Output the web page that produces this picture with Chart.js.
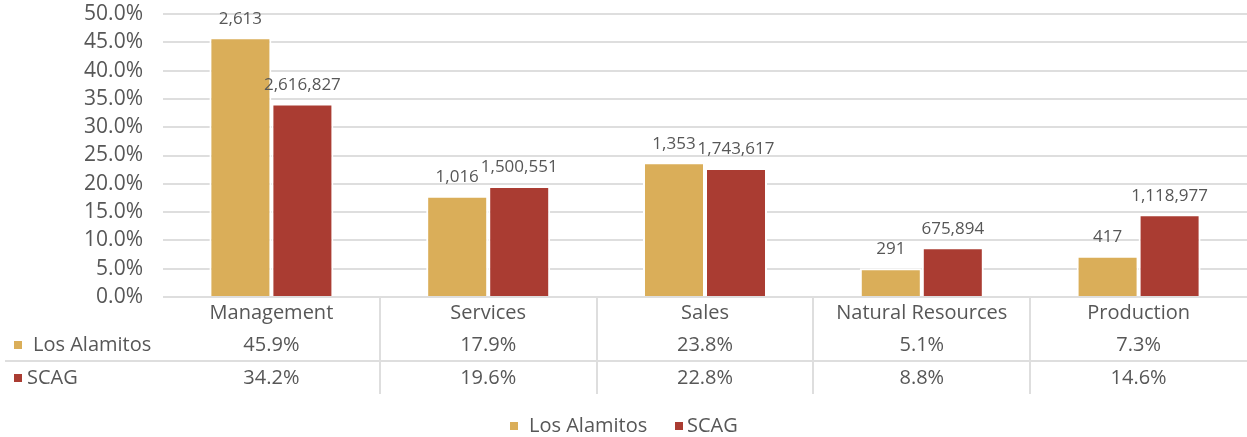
<!DOCTYPE html>
<html>
<head>
<meta charset="utf-8">
<script src="https://cdn.jsdelivr.net/npm/chart.js@4/dist/chart.umd.min.js"></script>
<style>
html,body{margin:0;padding:0;background:#fff;}
#wrap{width:1247px;height:437px;}
</style>
</head>
<body>
<div id="wrap"><canvas id="c" width="1247" height="437"></canvas></div>
<script>
const categories = ["Management", "Services", "Sales", "Natural Resources", "Production"];
const seriesNames = ["Los Alamitos", "SCAG"];
const losAlamitosPct = [45.9, 17.9, 23.8, 5.1, 7.3];
const scagPct = [34.2, 19.6, 22.8, 8.8, 14.6];
const losAlamitosCount = [2613, 1016, 1353, 291, 417];
const scagCount = [2616827, 1500551, 1743617, 675894, 1118977];
const yTicks = [0, 5, 10, 15, 20, 25, 30, 35, 40, 45, 50];

const colors = ["#DAAE59", "#AA3C32"];
const textColor = "#575757";
const gridColor = "#dedede";
const FONT = "'Open Sans', sans-serif";

const pctSeries = [losAlamitosPct, scagPct];
const countSeries = [losAlamitosCount, scagCount];

const labelPlugin = {
  id: 'barLabels',
  afterDatasetsDraw(chart) {
    const ctx = chart.ctx;
    ctx.save();
    ctx.font = "17px " + FONT;
    ctx.fillStyle = textColor;
    ctx.textAlign = 'center';
    ctx.textBaseline = 'bottom';
    chart.data.datasets.forEach((ds, di) => {
      const meta = chart.getDatasetMeta(di);
      meta.data.forEach((el, i) => {
        ctx.fillText(countSeries[di][i].toLocaleString('en-US'), el.x, el.y - 10);
      });
    });
    ctx.restore();
  }
};

const tablePlugin = {
  id: 'dataTable',
  afterDraw(chart) {
    const ctx = chart.ctx;
    const xs = chart.scales.x;
    const area = chart.chartArea;
    const n = categories.length;
    const colW = (area.right - area.left) / n;
    ctx.save();
    ctx.strokeStyle = gridColor;
    ctx.lineWidth = 2;
    ctx.beginPath();
    ctx.moveTo(5, 361); ctx.lineTo(area.right, 361);
    for (let i = 1; i < n; i++) {
      const x = Math.round(area.left + colW * i);
      ctx.moveTo(x, area.bottom); ctx.lineTo(x, 394);
    }
    ctx.stroke();
    ctx.fillStyle = textColor;
    ctx.textAlign = 'center';
    ctx.textBaseline = 'middle';
    ctx.font = "20px " + FONT;
    categories.forEach((c, i) => {
      ctx.fillText(c, xs.getPixelForValue(i), 313);
    });
    const rowY = [345, 378];
    pctSeries.forEach((arr, si) => {
      arr.forEach((v, i) => {
        ctx.fillText(v.toFixed(1) + '%', xs.getPixelForValue(i), rowY[si]);
      });
    });
    ctx.textAlign = 'left';
    ctx.fillStyle = colors[0];
    ctx.fillRect(14, rowY[0] - 4, 8, 8);
    ctx.fillStyle = colors[1];
    ctx.fillRect(14, rowY[1] - 4, 8, 8);
    ctx.fillStyle = textColor;
    ctx.fillText(seriesNames[0], 33, rowY[0]);
    ctx.fillText(seriesNames[1], 27, rowY[1]);
    const ly = 426;
    ctx.fillStyle = colors[0];
    ctx.fillRect(510, ly - 4, 8, 8);
    ctx.fillStyle = colors[1];
    ctx.fillRect(675, ly - 4, 8, 8);
    ctx.fillStyle = textColor;
    ctx.fillText(seriesNames[0], 529, ly);
    ctx.fillText(seriesNames[1], 687, ly);
    ctx.restore();
  }
};

new Chart(document.getElementById('c'), {
  type: 'bar',
  data: {
    labels: categories,
    datasets: [
      { label: seriesNames[0], data: losAlamitosPct, backgroundColor: colors[0], borderColor: '#ffffff', borderWidth: 2, categoryPercentage: 0.572, barPercentage: 1.0 },
      { label: seriesNames[1], data: scagPct, backgroundColor: colors[1], borderColor: '#ffffff', borderWidth: 2, categoryPercentage: 0.572, barPercentage: 1.0 }
    ]
  },
  options: {
    responsive: false,
    animation: false,
    devicePixelRatio: 1,
    layout: { padding: { top: 14, bottom: 140, left: 0, right: 0 } },
    plugins: { legend: { display: false }, tooltip: { enabled: false } },
    scales: {
      x: { display: false },
      y: {
        min: 0, max: 50,
        afterFit(scale) { scale.width = 163; scale.paddingTop = 0; scale.paddingBottom = 0; },
        afterBuildTicks(scale) { scale.ticks = yTicks.map(v => ({ value: v })); },
        border: { display: false },
        grid: { color: gridColor, lineWidth: 2, drawTicks: false },
        ticks: {
          padding: 20,
          color: textColor,
          font: { family: "'Open Sans', sans-serif", size: 21 },
          callback: v => Number(v).toFixed(1) + '%'
        }
      }
    }
  },
  plugins: [labelPlugin, tablePlugin]
});
</script>
</body>
</html>
